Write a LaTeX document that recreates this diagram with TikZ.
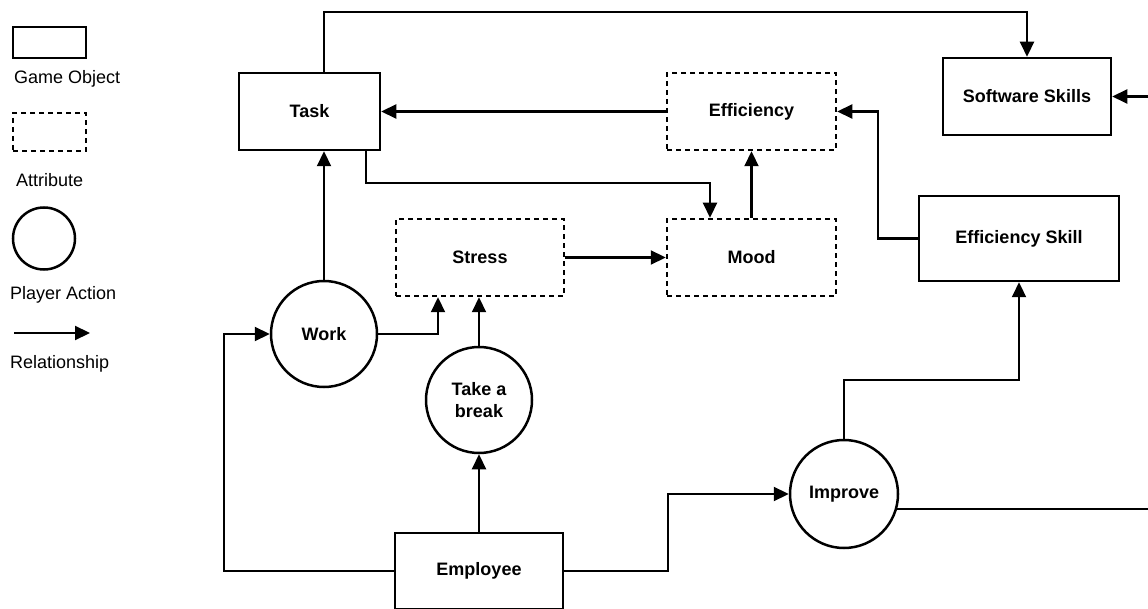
\documentclass[tikz,border=0pt]{standalone}
\usepackage{fontspec}
\setmainfont{Liberation Sans}
\usetikzlibrary{arrows.meta}

\tikzset{
  every node/.style={font=\fontsize{18}{22}\selectfont},
  object/.style={draw, line width=2.5pt, rectangle, inner sep=0pt, font=\fontsize{18}{22}\selectfont\bfseries},
  attrib/.style={draw, line width=2.5pt, rectangle, inner sep=0pt, dash pattern=on 5pt off 4pt, font=\fontsize{18}{22}\selectfont\bfseries},
  action/.style={draw, line width=2.5pt, circle, inner sep=0pt, align=center, font=\fontsize{18}{22}\selectfont\bfseries},
  rel/.style={line width=2.2pt, -{Triangle[length=15pt,width=14pt]}},
  legendtext/.style={anchor=west, inner sep=0pt},
}

\begin{document}
\begin{tikzpicture}[x=1pt, y=-1pt]
\useasboundingbox (0,0) rectangle (1148,609);
\clip (0,0) rectangle (1148,609);

% legend
\node[object, minimum width=73pt, minimum height=31pt] (lgobj) at (49.5,42.5) {};
\node[legendtext] (lgobjtxt) at (14,79) {Game Object};
\node[attrib, minimum width=73pt, minimum height=38pt] (lgattr) at (49.5,132) {};
\node[legendtext] (lgattrtxt) at (16,180) {Attribute};
\node[action, minimum size=62pt] (lgact) at (44,238.5) {};
\node[legendtext] (lgacttxt) at (10,295) {Player Action};
\coordinate (lgarrA) at (14,333);
\coordinate (lgarrB) at (90,333);
\draw[rel] (lgarrA) -- (lgarrB);
\node[legendtext] (lgreltxt) at (10,364) {Relationship};

% game objects
\node[object, minimum width=141pt, minimum height=77pt] (task) at (309.5,111.5) {Task};
\node[object, minimum width=168pt, minimum height=77pt] (soft) at (1027,96.5) {Software Skills};
\node[object, minimum width=200pt, minimum height=85pt] (effskill) at (1019,238.5) {Efficiency Skill};
\node[object, minimum width=168pt, minimum height=76pt] (emp) at (479,571) {Employee};

% attributes
\node[attrib, minimum width=169pt, minimum height=77pt] (eff) at (751.5,111.5) {Efficiency};
\node[attrib, minimum width=168pt, minimum height=77pt] (stress) at (480,257.5) {Stress};
\node[attrib, minimum width=169pt, minimum height=77pt] (mood) at (751.5,257.5) {Mood};

% player actions
\node[action, minimum size=106pt] (work) at (324,334) {Work};
\node[action, minimum size=106pt] (brk) at (479,400) {Take a\\break};
\node[action, minimum size=108pt] (improve) at (844,494) {Improve};

% routing points
\coordinate (topy) at (0,12);
\coordinate (rx) at (1170,0);
\coordinate (tm1) at (366,183);
\coordinate (tm2) at (710,183);
\coordinate (esx) at (878,0);
\coordinate (wsx) at (438,0);
\coordinate (lx) at (224,0);
\coordinate (ex) at (668,0);
\coordinate (iy) at (0,380);

% relationships
\draw[rel] (work.north |- task.north) -- (work.north |- topy) -| (soft.north);
\draw[rel] (improve.-16) -- (improve.-16 -| rx) |- (soft.east);
\draw[rel] (eff.west) -- (task.east);
\draw[rel] (task.south -| tm1) -- (tm1) -- (tm2) -- (mood.north -| tm2);
\draw[rel] (mood.north) -- (eff.south);
\draw[rel] (effskill.west) -- (effskill.west -| esx) |- (eff.east);
\draw[rel] (stress.east) -- (mood.west);
\draw[rel] (work.north) -- (work.north |- task.south);
\draw[rel] (work.east) -| (wsx |- stress.south);
\draw[rel] (brk.north) -- (brk.north |- stress.south);
\draw[rel] (emp.north) -- (brk.south);
\draw[rel] (emp.west) -- (emp.west -| lx) |- (work.west);
\draw[rel] (emp.east) -- (emp.east -| ex) |- (improve.west);
\draw[rel] (improve.north) -- (improve.north |- iy) -| (effskill.south);
\end{tikzpicture}
\end{document}
